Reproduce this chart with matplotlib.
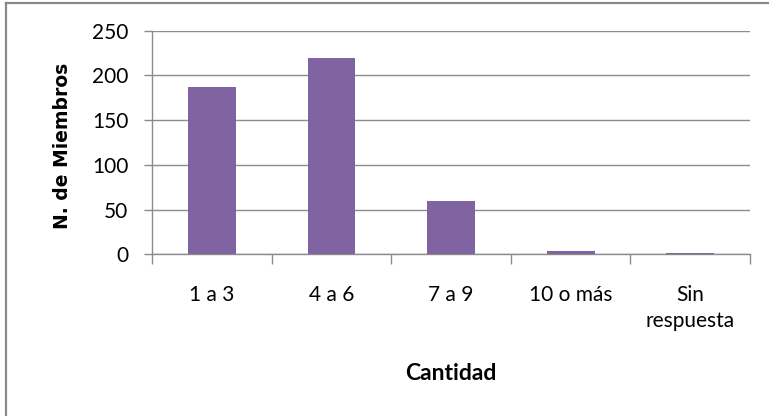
import matplotlib
matplotlib.use("Agg")
import matplotlib.pyplot as plt
from matplotlib.lines import Line2D

# Number of members per household-size bracket
categories = ["1 a 3", "4 a 6", "7 a 9", "10 o más", "Sin\nrespuesta"]
members = [187, 220, 60, 4, 2]
y_ticks = [0, 50, 100, 150, 200, 250]

BAR_COLOR = "#8064A2"
GRID_COLOR = "#8C8C8C"

fig = plt.figure(figsize=(7.69, 4.16), dpi=100)
ax = fig.add_axes([0.1977, 0.3887, 0.7776, 0.5375])

x = list(range(len(categories)))
ax.bar(x, members, width=0.4, color=BAR_COLOR, zorder=3)

ax.set_xlim(-0.5, len(categories) - 0.5)
ax.set_ylim(0, 250)
ax.set_yticks(y_ticks)
ax.set_yticklabels([str(v) for v in y_ticks], family="Lato", fontsize=15)

# category labels at the centres, tick marks at the boundaries
ax.set_xticks(x)
ax.set_xticklabels(categories, family="Lato", fontsize=15, va="top")
for lbl in ax.get_xticklabels():
    lbl.set_linespacing(1.4)
ax.set_xticks([i - 0.5 for i in range(len(categories) + 1)], minor=True)
ax.tick_params(axis="x", which="major", length=0, pad=22)
ax.tick_params(axis="x", which="minor", length=7, color=GRID_COLOR, width=1)
ax.tick_params(axis="y", length=6, color=GRID_COLOR, width=1, pad=11)

ax.yaxis.grid(True, color=GRID_COLOR, linewidth=1)
ax.set_axisbelow(True)
for side in ("top", "right"):
    ax.spines[side].set_visible(False)
for side in ("left", "bottom"):
    ax.spines[side].set_color(GRID_COLOR)
    ax.spines[side].set_linewidth(1)

fig.text(62 / 769, 1 - 146 / 416, "N. de Miembros", rotation=90,
         ha="center", va="center", family="DejaVu Sans", fontweight="bold",
         fontsize=13.5)
fig.text(451 / 769, 1 - 373 / 416, "Cantidad", ha="center", va="center",
         family="Lato", fontweight="bold", fontsize=16.5)

# chart frame (left and top edges)
fig.add_artist(Line2D([6 / 769, 6 / 769], [0, 1 - 3 / 416],
                      transform=fig.transFigure, color="#8A8A8A", linewidth=1.6))
fig.add_artist(Line2D([6 / 769, 1], [1 - 3 / 416, 1 - 3 / 416],
                      transform=fig.transFigure, color="#8A8A8A", linewidth=1.6))

fig.savefig("out.png", dpi=100)
